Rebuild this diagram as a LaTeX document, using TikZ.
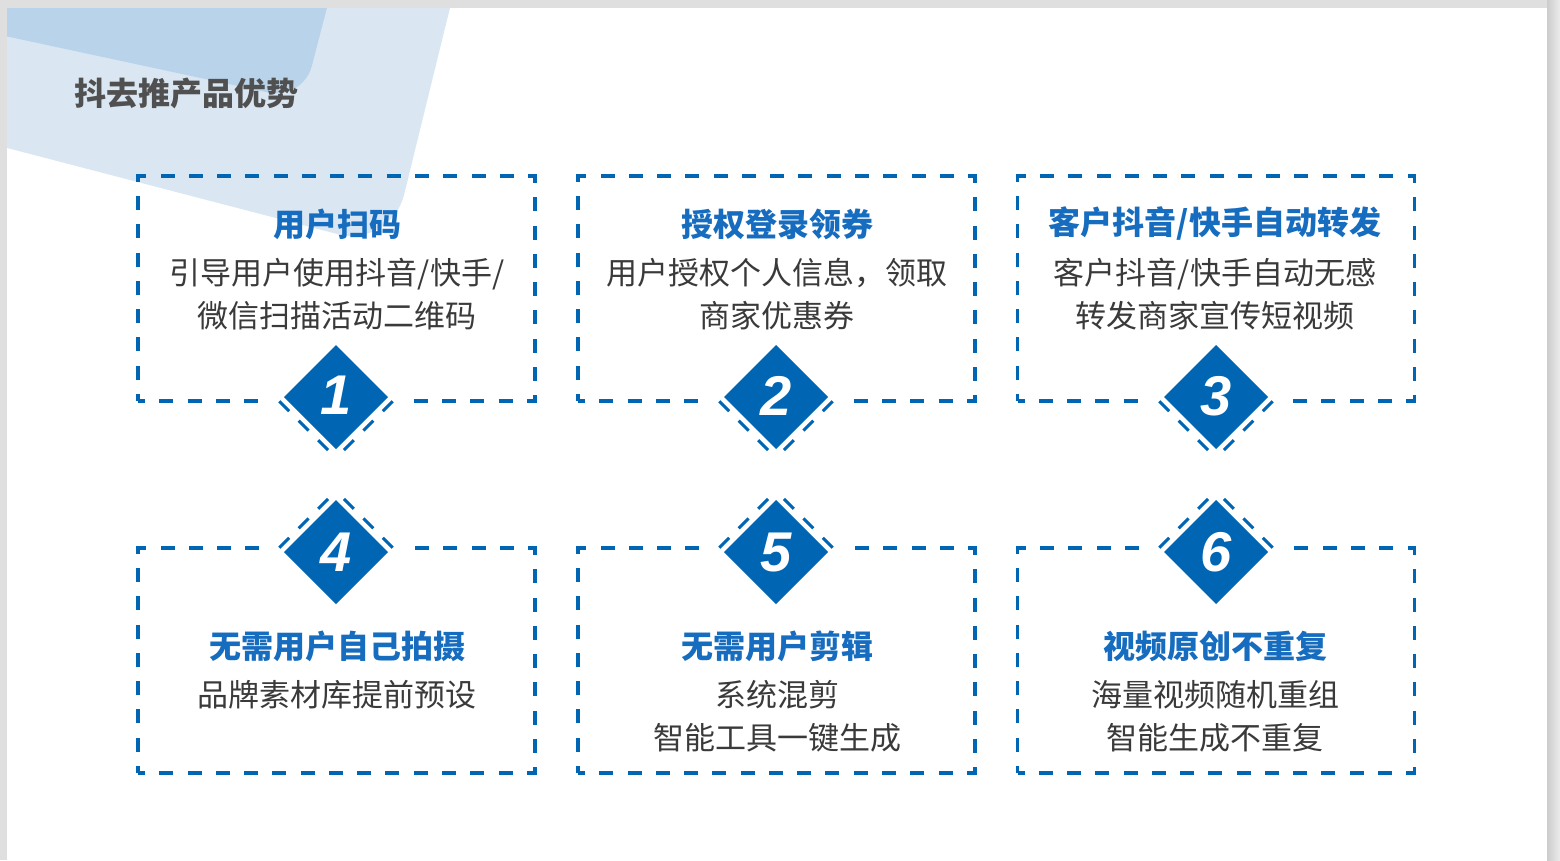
\documentclass[tikz,border=0pt]{standalone}
\usepackage{fontspec}
\newfontfamily\cjk{Noto Sans CJK SC}
\newfontfamily\numfont{Liberation Sans}
\usetikzlibrary{shapes.geometric,calc}

\definecolor{boxblue}{RGB}{0,102,180}
\definecolor{headblue}{RGB}{22,108,190}
\definecolor{bodygray}{RGB}{58,58,58}
\definecolor{titlegray}{RGB}{80,80,80}
\definecolor{paleblue}{RGB}{218,231,243}
\definecolor{softblue}{RGB}{185,212,234}

\begin{document}
\begin{tikzpicture}[x=1pt,y=-1pt,
  every node/.style={font=\cjk},
  card/.style={draw=boxblue, line width=3.5pt, dash pattern=on 14pt off 14.27pt,
    dash phase=7pt, minimum width=397, minimum height=225, inner sep=0},
  head/.style={font=\cjk\bfseries\fontsize{32}{32}\selectfont, text=headblue},
  body/.style={font=\cjk\fontsize{31}{43}\selectfont, text=bodygray, align=center},
  badge/.style={diamond, fill=boxblue, minimum size=104, inner sep=0, outer sep=0,
    text=white, font=\numfont\bfseries\itshape\fontsize{56}{56}\selectfont},
  halo/.style={diamond, minimum size=122, inner sep=0, outer sep=0},
  vdash/.style={draw=boxblue, line width=3pt, dash pattern=on 14pt off 13.5pt},
  linegap/.style={fill=white, minimum width=140, minimum height=12, inner sep=0}]
  \useasboundingbox (0,0) rectangle (1560,860);

  % Slide and its shadow
  \fill[gray!25] (0,0) rectangle (1560,860);
  \shade[left color=gray!40, right color=gray!15] (1547,0) rectangle (1560,860);
  \fill[white] (7,8) rectangle (1547,860);

  % Blue corner shapes
  \begin{scope}
    \clip (7,8) rectangle (1547,860);
    \fill[paleblue, rounded corners=55pt] (-200,-200) -- (501,-200) -- (391,248) -- (-200,94) -- cycle;
    \fill[softblue, rounded corners=35pt] (-200,-200) -- (381,-200) -- (303,100) -- (-200,-8) -- cycle;
  \end{scope}

  % Title
  \node[anchor=west, font=\cjk\bfseries\fontsize{32}{32}\selectfont, text=titlegray] (title) at (71,93) {抖去推产品优势};

  % Cards
  \node[card] (c1) at (336.5,288.5) {};
  \node[card] (c2) at (776.5,288.5) {};
  \node[card] (c3) at (1216,288.5) {};
  \node[card] (c4) at (336.5,660.5) {};
  \node[card] (c5) at (776.5,660.5) {};
  \node[card] (c6) at (1216,660.5) {};

  % Gaps in the card borders
  \node[linegap] (g1) at (336,401) {};
  \node[linegap] (g2) at (776,401) {};
  \node[linegap] (g3) at (1216,401) {};
  \node[linegap] (g4) at (336,548) {};
  \node[linegap] (g5) at (776,548) {};
  \node[linegap] (g6) at (1216,548) {};

  % Dashed halves round the badges
  \node[halo] (o1) at (336,397) {};
  \node[halo] (o2) at (776,397) {};
  \node[halo] (o3) at (1216,397) {};
  \node[halo] (o4) at (336,552) {};
  \node[halo] (o5) at (776,552) {};
  \node[halo] (o6) at (1216,552) {};
  \draw[vdash] ($(o1.west)!0.07!(o1.south)$) -- (o1.south);
  \draw[vdash] ($(o1.east)!0.07!(o1.south)$) -- (o1.south);
  \draw[vdash] ($(o2.west)!0.07!(o2.south)$) -- (o2.south);
  \draw[vdash] ($(o2.east)!0.07!(o2.south)$) -- (o2.south);
  \draw[vdash] ($(o3.west)!0.07!(o3.south)$) -- (o3.south);
  \draw[vdash] ($(o3.east)!0.07!(o3.south)$) -- (o3.south);
  \draw[vdash] ($(o4.west)!0.07!(o4.north)$) -- (o4.north);
  \draw[vdash] ($(o4.east)!0.07!(o4.north)$) -- (o4.north);
  \draw[vdash] ($(o5.west)!0.07!(o5.north)$) -- (o5.north);
  \draw[vdash] ($(o5.east)!0.07!(o5.north)$) -- (o5.north);
  \draw[vdash] ($(o6.west)!0.07!(o6.north)$) -- (o6.north);
  \draw[vdash] ($(o6.east)!0.07!(o6.north)$) -- (o6.north);

  % Badges
  \node[badge] (n1) at (336,397) {\raisebox{3pt}{1}};
  \node[badge] (n2) at (776,397) {\raisebox{3pt}{2}};
  \node[badge] (n3) at (1216,397) {\raisebox{3pt}{3}};
  \node[badge] (n4) at (336,552) {4};
  \node[badge] (n5) at (776,552) {5};
  \node[badge] (n6) at (1216,552) {6};

  % Card texts
  \node[head] (h1) at (337,224) {用户扫码};
  \node[body] (t1) at (337,294.5) {引导用户使用抖音/快手/\\微信扫描活动二维码};
  \node[head] (h2) at (777,224) {授权登录领券};
  \node[body] (t2) at (777,294.5) {用户授权个人信息，领取\\商家优惠券};
  \node[head] (h3) at (1215,224) {客户抖音/快手自动转发};
  \node[body] (t3) at (1215,294.5) {客户抖音/快手自动无感\\转发商家宣传短视频};
  \node[head] (h4) at (337,646) {无需用户自己拍摄};
  \node[body] (t4) at (337,695) {品牌素材库提前预设};
  \node[head] (h5) at (777,646) {无需用户剪辑};
  \node[body] (t5) at (777,716) {系统混剪\\智能工具一键生成};
  \node[head] (h6) at (1215,646) {视频原创不重复};
  \node[body] (t6) at (1215,716) {海量视频随机重组\\智能生成不重复};
\end{tikzpicture}
\end{document}
